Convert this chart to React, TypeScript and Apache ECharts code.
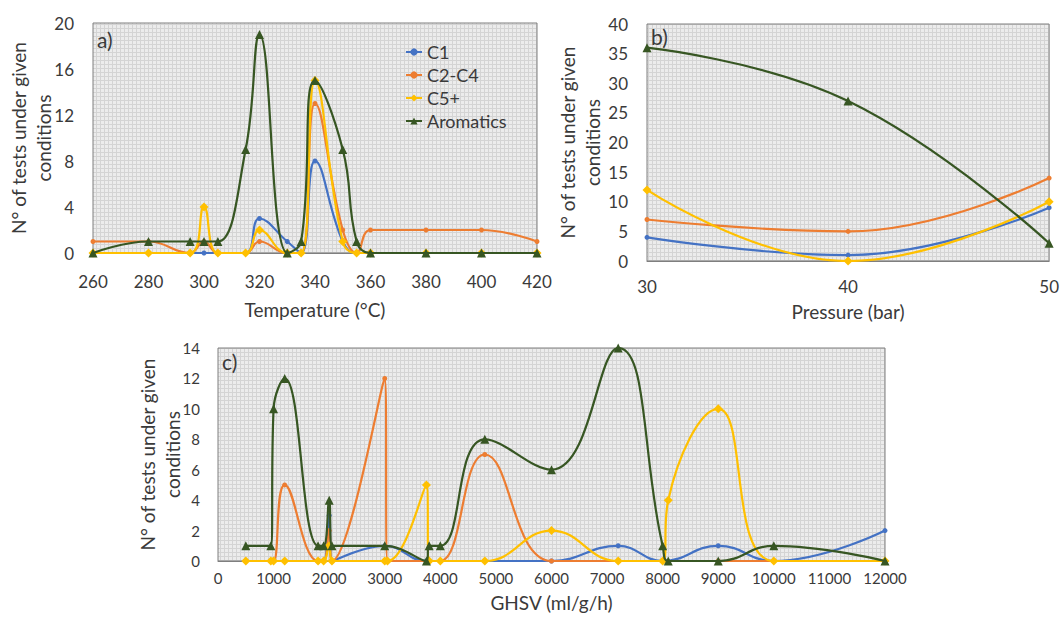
import React, { useEffect, useRef } from 'react';
import * as echarts from 'echarts';

// ---------- Panel a) Temperature ----------
const tempX = [260, 280, 295, 300, 305, 315, 320, 330, 335, 340, 350, 355, 360, 380, 400, 420];
const tempC1 = [0, 0, 0, 0, 0, 0, 3, 1, 0, 8, 1, 0, 0, 0, 0, 0];
const tempC2C4 = [1, 1, 0, 1, 0, 0, 1, 0, 0, 13, 2, 0, 2, 2, 2, 1];
const tempC5 = [0, 0, 0, 4, 0, 0, 2, 0, 0, 15, 1, 0, 0, 0, 0, 0];
const tempArom = [0, 1, 1, 1, 1, 9, 19, 0, 1, 15, 9, 1, 0, 0, 0, 0];

// ---------- Panel b) Pressure ----------
const presX = [30, 40, 50];
const presC1 = [4, 1, 9];
const presC2C4 = [7, 5, 14];
const presC5 = [12, 0, 10];
const presArom = [36, 27, 3];

// ---------- Panel c) GHSV ----------
const ghsvC1X = [500, 1000, 1200, 1800, 1900, 2000, 2050, 3000, 3750, 4000, 4800, 6000, 7200, 8000, 9000, 10000, 12000];
const ghsvC1Y = [0, 0, 0, 0, 0, 3, 0, 1, 0, 0, 0, 0, 1, 0, 1, 0, 2];
const ghsvC2C4X = [500, 950, 1000, 1200, 1800, 1900, 2000, 2050, 3000, 3050, 3800, 4000, 4800, 6000, 7200, 8000, 9000, 10000, 12000];
const ghsvC2C4Y = [0, 0, 0, 5, 0, 0, 2, 0, 12, 0, 0, 0, 7, 0, 0, 0, 0, 0, 0];
const ghsvC5X = [500, 950, 1000, 1200, 1800, 1900, 2000, 2050, 3000, 3050, 3750, 3800, 4000, 4800, 6000, 7200, 8000, 8100, 9000, 10000, 12000];
const ghsvC5Y = [0, 0, 0, 0, 0, 0, 1, 0, 0, 0, 5, 0, 0, 0, 2, 0, 0, 4, 10, 0, 0];
const ghsvAromX = [500, 950, 1000, 1200, 1800, 1900, 2000, 2050, 3000, 3750, 3800, 4000, 4800, 6000, 7200, 8000, 8100, 9000, 10000, 12000];
const ghsvAromY = [1, 1, 10, 12, 1, 1, 4, 1, 1, 0, 1, 1, 8, 6, 14, 1, 0, 0, 1, 0];

const seriesNames = ['C1', 'C2-C4', 'C5+', 'Aromatics'];
const colors = ['#4472C4', '#ED7D31', '#FFC000', '#375623'];

const pair = (xs: number[], ys: number[]) => xs.map((x, i) => [x, ys[i]]);

const FONT = 'Lato, "Open Sans", sans-serif';
const TXT = '#3a3a3a';

const tileSvg =
  '<svg xmlns="http://www.w3.org/2000/svg" width="4" height="4">' +
  '<rect width="4" height="4" fill="#ececec"/>' +
  '<rect width="4" height="1" fill="#d4d4d4"/>' +
  '<rect width="1" height="4" fill="#d4d4d4"/>' +
  '</svg>';
const patternFill: any = {
  image: 'data:image/svg+xml;charset=utf-8,' + encodeURIComponent(tileSvg),
  repeat: 'repeat',
  imageWidth: 4,
  imageHeight: 4,
};

function makeSeries(idx: number, name: string, data: number[][]) {
  const k = seriesNames.indexOf(name);
  const symbol = k === 3 ? 'triangle' : k === 2 ? 'diamond' : 'circle';
  const size = k >= 2 ? 9 : 5;
  return {
    type: 'line',
    name,
    xAxisIndex: idx,
    yAxisIndex: idx,
    data,
    smooth: 0.45,
    symbol,
    symbolSize: size,
    showSymbol: true,
    lineStyle: { color: colors[k], width: 2.2 },
    itemStyle: { color: colors[k] },
    z: 2 + k,
  };
}

export default function App() {
  const ref = useRef<HTMLDivElement>(null);
  useEffect(() => {
    const chart = echarts.init(ref.current as HTMLDivElement, null, { renderer: 'svg' });
    const axisLabel = (size: number, margin: number) => ({
      fontSize: size,
      color: TXT,
      fontFamily: FONT,
      margin,
      formatter: (v: number) => String(v),
    });
    const yName = 'N° of tests under given\nconditions';
    const nameStyle = { fontSize: 19, color: TXT, fontFamily: FONT, lineHeight: 25 };
    const xBase = {
      type: 'value',
      axisLine: { show: true, lineStyle: { color: '#7f7f7f', width: 1 } },
      axisTick: { show: false },
      splitLine: { show: false },
      nameLocation: 'middle',
      nameMoveOverlap: false,
      nameTextStyle: nameStyle,
    };
    const yBase = {
      type: 'value',
      axisLine: { show: false },
      axisTick: { show: false },
      splitLine: { show: false },
      nameLocation: 'middle',
      nameMoveOverlap: false,
      name: yName,
      nameTextStyle: nameStyle,
    };
    const gridBase = {
      show: true,
      backgroundColor: patternFill,
      borderColor: '#7f7f7f',
      borderWidth: 1,
    };
    const option: any = {
      animation: false,
      backgroundColor: '#ffffff',
      textStyle: { fontFamily: FONT },
      grid: [
        { ...gridBase, left: 93, top: 23, width: 444, height: 230 },
        { ...gridBase, left: 647, top: 24, width: 406, height: 237 },
        { ...gridBase, left: 218, top: 348, width: 667, height: 213 },
      ],
      xAxis: [
        { ...xBase, gridIndex: 0, min: 260, max: 420, interval: 20, axisLabel: axisLabel(17, 20), name: 'Temperature (°C)', nameGap: 44 },
        { ...xBase, gridIndex: 1, min: 30, max: 50, interval: 10, axisLabel: axisLabel(17, 17), name: 'Pressure (bar)', nameGap: 38 },
        { ...xBase, gridIndex: 2, min: 0, max: 12000, interval: 1000, axisLabel: axisLabel(15, 9), name: 'GHSV (ml/g/h)', nameGap: 29 },
      ],
      yAxis: [
        { ...yBase, gridIndex: 0, min: 0, max: 20, interval: 4, axisLabel: axisLabel(17, 19), nameGap: 37 },
        { ...yBase, gridIndex: 1, min: 0, max: 40, interval: 5, axisLabel: axisLabel(17, 19), nameGap: 42 },
        { ...yBase, gridIndex: 2, min: 0, max: 14, interval: 2, axisLabel: axisLabel(15, 18), nameGap: 33 },
      ],
      legend: {
        data: seriesNames,
        orient: 'vertical',
        left: 400,
        top: 38,
        itemWidth: 16,
        itemHeight: 9,
        itemGap: 5,
        textStyle: { fontSize: 18, color: TXT, fontFamily: FONT, lineHeight: 18 },
      },
      graphic: [
        { type: 'text', left: 97, top: 29, style: { text: 'a)', fontSize: 21, fill: TXT, fontFamily: FONT } },
        { type: 'text', left: 651, top: 26, style: { text: 'b)', fontSize: 21, fill: TXT, fontFamily: FONT } },
        { type: 'text', left: 222, top: 351, style: { text: 'c)', fontSize: 21, fill: TXT, fontFamily: FONT } },
      ],
      series: [
        makeSeries(0, 'C1', pair(tempX, tempC1)),
        makeSeries(0, 'C2-C4', pair(tempX, tempC2C4)),
        makeSeries(0, 'C5+', pair(tempX, tempC5)),
        makeSeries(0, 'Aromatics', pair(tempX, tempArom)),
        makeSeries(1, 'C1', pair(presX, presC1)),
        makeSeries(1, 'C2-C4', pair(presX, presC2C4)),
        makeSeries(1, 'C5+', pair(presX, presC5)),
        makeSeries(1, 'Aromatics', pair(presX, presArom)),
        makeSeries(2, 'C1', pair(ghsvC1X, ghsvC1Y)),
        makeSeries(2, 'C2-C4', pair(ghsvC2C4X, ghsvC2C4Y)),
        makeSeries(2, 'C5+', pair(ghsvC5X, ghsvC5Y)),
        makeSeries(2, 'Aromatics', pair(ghsvAromX, ghsvAromY)),
      ],
    };
    chart.setOption(option);
    return () => chart.dispose();
  }, []);
  return (
    <div
      ref={ref}
      style={{ position: 'fixed', left: 0, top: 0, width: 1062, height: 623, background: '#fff' }}
    />
  );
}
